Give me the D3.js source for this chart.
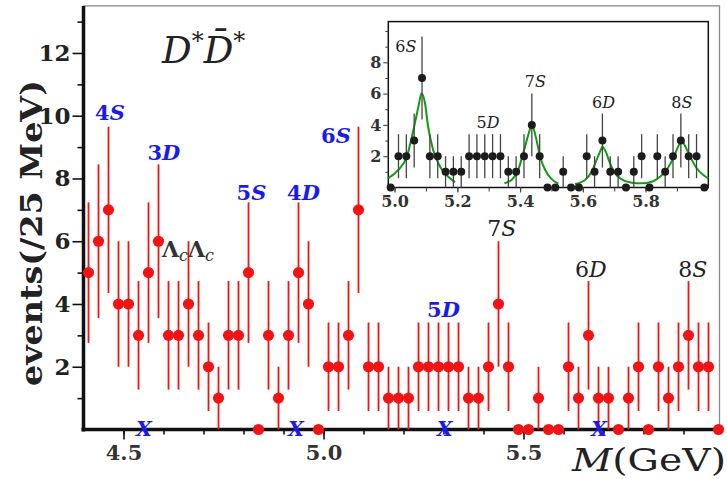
<!DOCTYPE html>
<html>
<head>
<meta charset="utf-8">
<script src="https://cdn.jsdelivr.net/npm/d3@7"></script>
<style>
  body { margin: 0; background: #fff; }
  svg { display: block; }
  text { font-family: "DejaVu Serif", serif; }
</style>
</head>
<body>
<div id="chart"></div>
<script>
// bin centres (GeV), 25 MeV bins
var binCenters = [4.4125, 4.4375, 4.4625, 4.4875, 4.5125, 4.5375, 4.5625, 4.5875,
  4.6125, 4.6375, 4.6625, 4.6875, 4.7125, 4.7375, 4.7625, 4.7875,
  4.8125, 4.8375, 4.8625, 4.8875, 4.9125, 4.9375, 4.9625, 4.9875,
  5.0125, 5.0375, 5.0625, 5.0875, 5.1125, 5.1375, 5.1625, 5.1875,
  5.2125, 5.2375, 5.2625, 5.2875, 5.3125, 5.3375, 5.3625, 5.3875,
  5.4125, 5.4375, 5.4625, 5.4875, 5.5125, 5.5375, 5.5625, 5.5875,
  5.6125, 5.6375, 5.6625, 5.6875, 5.7125, 5.7375, 5.7625, 5.7875,
  5.8125, 5.8375, 5.8625, 5.8875, 5.9125, 5.9375, 5.9625, 5.9875];

// events per bin
var counts = [5, 6, 7, 4, 4, 3, 5, 6, 3, 3,
  4, 3, 2, 1, 3, 3, 5, 0, 3, 1,
  3, 5, 4, 0, 2, 2, 3, 7, 2, 2,
  1, 1, 1, 2, 2, 2, 2, 2, 1, 1,
  2, 4, 2, 0, 0, 1, 0, 0, 2, 1,
  3, 1, 1, 0, 1, 2, 0, 2, 1, 2,
  3, 2, 2, 0];

// error bar half length read for each count (index = count)
var errByCount = [0, 1.0, 1.41, 1.73, 2.0, 2.24, 2.45, 2.65];

// tick values
var xMajorTicks = [4.5, 5.0, 5.5];
var xMinorTicks = [4.5, 4.6, 4.7, 4.8, 4.9, 5.0, 5.1, 5.2, 5.3, 5.4, 5.5, 5.6, 5.7, 5.8, 5.9];
var yMajorTicks = [2, 4, 6, 8, 10, 12];
var yMinorTicks = [1, 3, 5, 7, 9, 11, 13];
var insetXMajor = [5.0, 5.2, 5.4, 5.6, 5.8];
var insetXMinor = [5.0, 5.1, 5.2, 5.3, 5.4, 5.5, 5.6, 5.7, 5.8, 5.9];
var insetYMajor = [2, 4, 6, 8];
var insetYMinor = [1, 3, 5, 7, 9, 10];

// threshold markers on the axis
var thresholdMasses = [4.551, 4.931, 5.303, 5.689];

// state labels in main plot: [num, letter, mass, height, colour group]
var mainLabels = [
  ["4", "S", 4.466, 9.86, "blue"],
  ["3", "D", 4.601, 8.59, "blue"],
  ["5", "S", 4.820, 7.31, "blue"],
  ["4", "D", 4.950, 7.31, "blue"],
  ["6", "S", 5.031, 9.13, "blue"],
  ["5", "D", 5.300, 3.59, "blue"],
  ["7", "S", 5.446, 6.17, "black"],
  ["6", "D", 5.668, 4.87, "black"],
  ["8", "S", 5.923, 4.87, "black"]
];
var insetLabels = [
  ["6", "S", 5.036, 8.66],
  ["5", "D", 5.298, 3.80],
  ["7", "S", 5.449, 6.42],
  ["6", "D", 5.666, 5.08],
  ["8", "S", 5.916, 5.08]
];

// green fit curves: [mass, events]
var fitPeak6S = [[4.980, 0.60], [5.012, 1.12], [5.039, 1.97], [5.060, 3.67], [5.076, 5.16],
  [5.086, 6.02], [5.097, 5.38], [5.107, 3.88], [5.123, 2.40], [5.145, 1.33], [5.171, 0.69], [5.193, 0.34]];
var fitPeak7S = [[5.350, 0.27], [5.373, 0.48], [5.394, 1.12], [5.410, 2.18], [5.426, 3.35],
  [5.438, 4.00], [5.450, 3.25], [5.464, 1.97], [5.480, 1.12], [5.500, 0.55], [5.522, 0.25]];
var fitPeak6D8S = [[5.575, 0.22], [5.607, 0.48], [5.628, 1.01], [5.644, 1.76], [5.655, 2.29],
  [5.663, 2.61], [5.673, 2.29], [5.687, 1.54], [5.703, 0.90], [5.724, 0.52], [5.756, 0.31],
  [5.788, 0.27], [5.820, 0.37], [5.846, 0.69], [5.867, 1.12], [5.888, 1.86], [5.904, 2.61],
  [5.915, 3.00], [5.926, 2.65], [5.942, 1.97], [5.963, 1.23], [5.984, 0.80], [6.000, 0.59]];

var svgWidth = 727;
var svgHeight = 479;

var svg = d3.select("#chart")
  .append("svg")
  .attr("width", svgWidth)
  .attr("height", svgHeight);

var points = binCenters.map(function(m, i) {
  return { m: m, n: counts[i], e: errByCount[counts[i]] };
});

// ---------------- main plot ----------------
var x = d3.scaleLinear().domain([4.4, 6.0]).range([83.5, 723.5]);
var y = d3.scaleLinear().domain([0, 13.5]).range([429.5, 5.9]);

// thin grey frame
svg.append("rect")
  .attr("x", x(4.4))
  .attr("y", y(13.5))
  .attr("width", x(5.99) - x(4.4))
  .attr("height", y(0) - y(13.5))
  .attr("fill", "none")
  .attr("stroke", "#8a8a8a")
  .attr("stroke-width", 1.3);

// axes ticks
var xMinorAxis = d3.axisBottom(x).tickValues(xMinorTicks).tickSize(5).tickFormat("");
var xMajorAxis = d3.axisBottom(x).tickValues(xMajorTicks).tickSize(10).tickPadding(6).tickFormat(d3.format(".1f"));
var yMinorAxis = d3.axisLeft(y).tickValues(yMinorTicks).tickSize(6).tickFormat("");
var yMajorAxis = d3.axisLeft(y).tickValues(yMajorTicks).tickSize(11).tickPadding(2).tickFormat(d3.format("d"));

function styleAxis(g) {
  g.select(".domain").remove();
  g.selectAll(".tick line").attr("stroke", "#111").attr("stroke-width", 1.6);
}

svg.append("g").attr("transform", "translate(0," + y(0) + ")").call(xMinorAxis).call(styleAxis);
var xg = svg.append("g").attr("transform", "translate(0," + y(0) + ")").call(xMajorAxis).call(styleAxis);
xg.selectAll(".tick text")
  .attr("font-family", "DejaVu Serif")
  .attr("font-weight", "bold")
  .attr("font-size", 21)
  .attr("fill", "#333");

svg.append("g").attr("transform", "translate(" + x(4.4) + ",0)").call(yMinorAxis).call(styleAxis);
var yg = svg.append("g").attr("transform", "translate(" + x(4.4) + ",0)").call(yMajorAxis).call(styleAxis);
yg.selectAll(".tick text")
  .attr("font-family", "DejaVu Serif")
  .attr("font-weight", "bold")
  .attr("font-size", 23)
  .attr("fill", "#222");

// thick axis lines
svg.append("line")
  .attr("x1", x(4.4)).attr("x2", x(4.4))
  .attr("y1", y(13.5)).attr("y2", y(0) + 2)
  .attr("stroke", "#111").attr("stroke-width", 3.5);
svg.append("line")
  .attr("x1", x(4.4) - 2).attr("x2", x(5.99))
  .attr("y1", y(0)).attr("y2", y(0))
  .attr("stroke", "#111").attr("stroke-width", 3.5);

// error bars
svg.append("g").selectAll("line")
  .data(points.filter(function(d) { return d.n > 0; }))
  .enter()
  .append("line")
  .attr("x1", function(d) { return x(d.m); })
  .attr("x2", function(d) { return x(d.m); })
  .attr("y1", function(d) { return y(d.n + d.e); })
  .attr("y2", function(d) { return y(d.n - d.e); })
  .attr("stroke", "#f01414")
  .attr("stroke-width", 1.8);

svg.append("g").selectAll("circle")
  .data(points)
  .enter()
  .append("circle")
  .attr("cx", function(d) { return x(d.m); })
  .attr("cy", function(d) { return y(d.n); })
  .attr("r", 5.6)
  .attr("fill", "#f01414");

// threshold X markers
svg.append("g").selectAll("text")
  .data(thresholdMasses)
  .enter()
  .append("text")
  .attr("x", function(d) { return x(d); })
  .attr("y", y(0) + 6)
  .attr("text-anchor", "middle")
  .attr("font-size", 20)
  .attr("font-weight", "bold")
  .attr("font-style", "italic")
  .attr("fill", "#1a1af0")
  .text("X");

// state labels
var ml = svg.append("g").selectAll("text")
  .data(mainLabels)
  .enter()
  .append("text")
  .attr("x", function(d) { return x(d[2]); })
  .attr("y", function(d) { return y(d[3]); })
  .attr("text-anchor", "middle")
  .attr("font-size", function(d) { return d[4] === "blue" ? 21 : 22; })
  .attr("font-weight", function(d) { return d[4] === "blue" ? "bold" : "normal"; })
  .attr("fill", function(d) { return d[4] === "blue" ? "#1a1af0" : "#222"; });
ml.append("tspan").text(function(d) { return d[0]; });
ml.append("tspan").attr("font-style", "italic").text(function(d) { return d[1]; });

// Lambda_c Lambda_c threshold label
var lam = svg.append("text")
  .attr("x", x(4.596))
  .attr("y", y(5.51))
  .attr("font-size", 22)
  .attr("font-weight", "bold")
  .attr("fill", "#333");
lam.append("tspan").text("Λ");
lam.append("tspan").attr("font-style", "italic").attr("font-weight", "normal").attr("font-size", 16).attr("dy", 4).text("c");
lam.append("tspan").attr("dy", -4).text("Λ");
lam.append("tspan").attr("font-style", "italic").attr("font-weight", "normal").attr("font-size", 16).attr("dy", 4).text("c");

// title
var title = svg.append("text")
  .attr("x", 162)
  .attr("y", 63)
  .attr("font-size", 37)
  .attr("font-style", "italic")
  .attr("fill", "#222");
title.append("tspan").text("D");
title.append("tspan").attr("font-size", 24).attr("dy", -14).attr("font-style", "normal").text("*");
title.append("tspan").attr("dy", 14).text("D\u0304");
title.append("tspan").attr("font-size", 24).attr("dy", -14).attr("font-style", "normal").text("*");

// axis titles
svg.append("text")
  .attr("transform", "translate(42,233) rotate(-90)")
  .attr("text-anchor", "middle")
  .attr("font-size", 29)
  .attr("font-weight", "bold")
  .attr("textLength", 306)
  .attr("lengthAdjust", "spacingAndGlyphs")
  .attr("fill", "#222")
  .text("events(/25 MeV)");

var xt = svg.append("text")
  .attr("x", 726)
  .attr("y", 470.5)
  .attr("text-anchor", "end")
  .attr("font-size", 32)
  .attr("textLength", 154)
  .attr("lengthAdjust", "spacingAndGlyphs")
  .attr("fill", "#222");
xt.append("tspan").attr("font-style", "italic").text("M");
xt.append("tspan").text("(GeV)");

// ---------------- inset ----------------
var xi = d3.scaleLinear().domain([4.98, 6.0]).range([388.3, 708.3]);
var yi = d3.scaleLinear().domain([0, 10.6]).range([187.5, 21.6]);

var inset = svg.append("g");

inset.append("rect")
  .attr("x", xi(4.98))
  .attr("y", yi(10.6))
  .attr("width", xi(6.0) - xi(4.98))
  .attr("height", yi(0) - yi(10.6))
  .attr("fill", "#fff")
  .attr("stroke", "#111")
  .attr("stroke-width", 1.5);

function styleInsetAxis(g) {
  g.select(".domain").remove();
  g.selectAll(".tick line").attr("stroke", "#444").attr("stroke-width", 1.1);
  g.selectAll(".tick text")
    .attr("font-family", "DejaVu Serif")
    .attr("font-weight", "bold")
    .attr("font-size", 16)
    .attr("fill", "#333");
}

inset.append("g").attr("transform", "translate(0," + yi(0) + ")")
  .call(d3.axisBottom(xi).tickValues(insetXMinor).tickSize(4).tickFormat("")).call(styleInsetAxis);
inset.append("g").attr("transform", "translate(0," + yi(0) + ")")
  .call(d3.axisBottom(xi).tickValues(insetXMajor).tickSize(5).tickPadding(3).tickFormat(d3.format(".1f"))).call(styleInsetAxis);
inset.append("g").attr("transform", "translate(" + xi(4.98) + ",0)")
  .call(d3.axisLeft(yi).tickValues(insetYMinor).tickSize(3).tickFormat("")).call(styleInsetAxis);
inset.append("g").attr("transform", "translate(" + xi(4.98) + ",0)")
  .call(d3.axisLeft(yi).tickValues(insetYMajor).tickSize(5).tickPadding(2).tickFormat(d3.format("d"))).call(styleInsetAxis);

var insetPoints = points.filter(function(d) { return d.m > 4.98; });

// fit curves
var fitLine = d3.line()
  .x(function(d) { return xi(d[0]); })
  .y(function(d) { return yi(d[1]); })
  .curve(d3.curveMonotoneX);

inset.append("g").selectAll("path")
  .data([fitPeak6S, fitPeak7S, fitPeak6D8S])
  .enter()
  .append("path")
  .attr("d", fitLine)
  .attr("fill", "none")
  .attr("stroke", "#139a13")
  .attr("stroke-width", 2);

inset.append("g").selectAll("line")
  .data(insetPoints.filter(function(d) { return d.n > 0; }))
  .enter()
  .append("line")
  .attr("x1", function(d) { return xi(d.m); })
  .attr("x2", function(d) { return xi(d.m); })
  .attr("y1", function(d) { return yi(d.n + d.e); })
  .attr("y2", function(d) { return yi(d.n - d.e); })
  .attr("stroke", "#444")
  .attr("stroke-width", 1.3);

inset.append("g").selectAll("circle")
  .data(insetPoints)
  .enter()
  .append("circle")
  .attr("cx", function(d) { return xi(d.m); })
  .attr("cy", function(d) { return yi(d.n); })
  .attr("r", 4)
  .attr("fill", "#1c1c1c");

var il = inset.append("g").selectAll("text")
  .data(insetLabels)
  .enter()
  .append("text")
  .attr("x", function(d) { return xi(d[2]); })
  .attr("y", function(d) { return yi(d[3]); })
  .attr("text-anchor", "middle")
  .attr("font-size", 16)
  .attr("fill", "#222");
il.append("tspan").text(function(d) { return d[0]; });
il.append("tspan").attr("font-style", "italic").text(function(d) { return d[1]; });
</script>
</body>
</html>
